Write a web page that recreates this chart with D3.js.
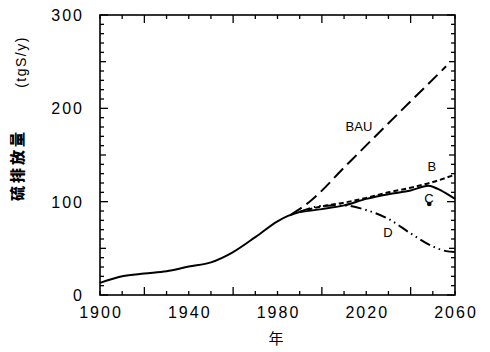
<!DOCTYPE html>
<html>
<head>
<meta charset="utf-8">
<script src="https://cdn.jsdelivr.net/npm/d3@7/dist/d3.min.js"></script>
<style>
  html, body { margin: 0; padding: 0; background: #fff; }
  svg { display: block; }
  .tick-label { font-family: "Liberation Sans", Arial, sans-serif; font-size: 16px; letter-spacing: 2px; fill: #000; }
  .series-label { font-family: "Liberation Sans", Arial, sans-serif; font-size: 13px; fill: #000; }
</style>
</head>
<body>
<script>
// Sulfur emissions, historical and scenario projections (tgS/y)
const histYears = [1900, 1910, 1920, 1930, 1940, 1950, 1960, 1970, 1980, 1985, 1990];
const histValues = [13, 20, 23, 25.5, 30.5, 35, 46, 62, 79, 85, 89];

const bauYears = [1986, 1995, 2011, 2030, 2056];
const bauValues = [86, 101, 139, 184, 245];

const bYears = [1990, 2000, 2010, 2020, 2030, 2040, 2050, 2060];
const bValues = [89, 95, 99, 104, 110, 115, 121, 129];

const cYears = [1990, 2000, 2010, 2020, 2030, 2040, 2048, 2052, 2056, 2060];
const cValues = [89, 92, 96, 103, 108, 112, 117, 114, 109, 103];

const dYears = [1990, 2000, 2010, 2020, 2030, 2040, 2050, 2056, 2060];
const dValues = [89, 95.5, 96, 91, 81.5, 66, 52, 47, 46];

const xTickLabels = [1900, 1940, 1980, 2020, 2060];
const yTickLabels = [0, 100, 200, 300];

const W = 490, H = 352;
const margin = { left: 100, right: 35, top: 15, bottom: 57 };

const svg = d3.select("body").append("svg").attr("width", W).attr("height", H);

const x = d3.scaleLinear().domain([1900, 2060]).range([margin.left, W - margin.right]);
const y = d3.scaleLinear().domain([0, 300]).range([H - margin.bottom, margin.top]);

const x0 = x(1900), x1 = x(2060), y0 = y(0), y1 = y(300);

// Frame
svg.append("rect")
  .attr("x", x0).attr("y", y1)
  .attr("width", x1 - x0).attr("height", y0 - y1)
  .attr("fill", "none").attr("stroke", "#000").attr("stroke-width", 1.6);

// Inward ticks on all four sides
const xt = d3.range(1900, 2061, 10);
const yt = d3.range(0, 301, 10);
const xLen = v => (v % 40 === 0 ? 8 : 4);
const yLen = v => (v % 100 === 0 ? 8 : (v % 50 === 0 ? 6 : 4));
const tg = svg.append("g").attr("stroke", "#000").attr("stroke-width", 1.3);
xt.forEach(v => {
  tg.append("line").attr("x1", x(v)).attr("x2", x(v)).attr("y1", y0).attr("y2", y0 - xLen(v));
  tg.append("line").attr("x1", x(v)).attr("x2", x(v)).attr("y1", y1).attr("y2", y1 + xLen(v));
});
yt.forEach(v => {
  tg.append("line").attr("y1", y(v)).attr("y2", y(v)).attr("x1", x0).attr("x2", x0 + yLen(v));
  tg.append("line").attr("y1", y(v)).attr("y2", y(v)).attr("x1", x1).attr("x2", x1 - yLen(v));
});

// Tick labels
svg.append("g").selectAll("text").data(xTickLabels).join("text")
  .attr("class", "tick-label")
  .attr("x", d => x(d) + 1).attr("y", y0 + 23)
  .attr("text-anchor", "middle")
  .text(d => d);

svg.append("g").selectAll("text").data(yTickLabels).join("text")
  .attr("class", "tick-label")
  .attr("x", x0 - 16).attr("y", d => y(d) + 6)
  .attr("text-anchor", "end")
  .text(d => d);

// Axis titles
svg.append("text")
  .attr("x", 276).attr("y", 344)
  .attr("text-anchor", "middle")
  .style("font-family", "'Noto Sans CJK SC', sans-serif")
  .style("font-size", "15px")
  .text("年");

svg.append("text")
  .attr("transform", "translate(23,165) rotate(-90)")
  .attr("text-anchor", "middle")
  .style("font-family", "'Noto Sans CJK SC', sans-serif")
  .style("font-size", "15px").style("font-weight", "900")
  .style("letter-spacing", "3px")
  .text("硫排放量");

svg.append("text")
  .attr("transform", "translate(26,62) rotate(-90)")
  .attr("text-anchor", "middle")
  .style("font-family", "'Liberation Sans', Arial, sans-serif")
  .style("font-size", "14px")
  .style("letter-spacing", "1.5px")
  .text("(tgS/y)");

// Series lines
const line = d3.line().x(d => x(d[0])).y(d => y(d[1])).curve(d3.curveMonotoneX);
const zip = (a, b) => a.map((v, i) => [v, b[i]]);

const series = [
  { data: zip(histYears, histValues), dash: null },
  { data: zip(bauYears, bauValues), dash: "13,6" },
  { data: zip(bYears, bValues), dash: "5,3" },
  { data: zip(dYears, dValues), dash: "11,4,1.5,4,1.5,4" },
  { data: zip(cYears, cValues), dash: null }
];

svg.append("g").selectAll("path").data(series).join("path")
  .attr("d", d => line(d.data))
  .attr("fill", "none")
  .attr("stroke", "#000")
  .attr("stroke-width", 2)
  .attr("stroke-dasharray", d => d.dash);

// Series labels
const labels = [
  { t: "BAU", x: 2016.7, y: 181 },
  { t: "B", x: 2049.6, y: 138 },
  { t: "C", x: 2048.3, y: 104 },
  { t: "D", x: 2029.8, y: 67.5 }
];
svg.append("g").selectAll("text").data(labels).join("text")
  .attr("class", "series-label")
  .attr("x", d => x(d.x)).attr("y", d => y(d.y) + 5)
  .attr("text-anchor", "middle")
  .text(d => d.t);

svg.append("circle")
  .attr("cx", x(2048.4)).attr("cy", y(97.5))
  .attr("r", 2.3).attr("fill", "#000");
</script>
</body>
</html>
